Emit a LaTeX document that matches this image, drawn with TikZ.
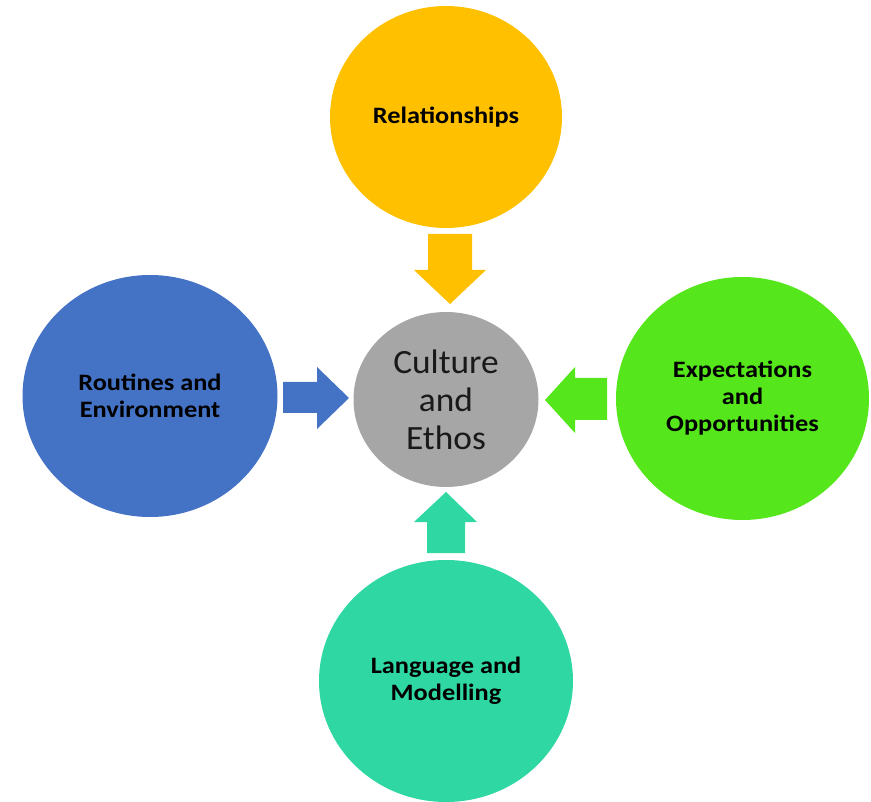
\documentclass[tikz,border=0pt]{standalone}
\usepackage{fontspec}
\setmainfont{Carlito}
\newfontfamily\lblfont[FakeStretch=1.12]{Carlito}
\newfontfamily\corefont[FakeStretch=1.04]{Carlito}
\usetikzlibrary{shapes.geometric}
\definecolor{cyellow}{HTML}{FFC000}
\definecolor{cblue}{HTML}{4472C4}
\definecolor{cgreen}{HTML}{55E61C}
\definecolor{cteal}{HTML}{2FD7A2}
\definecolor{cgray}{HTML}{A6A6A6}
\tikzset{
  blob/.style={ellipse, inner sep=0pt, align=center, text=black,
    font=\lblfont\fontsize{23.5}{27}\selectfont\bfseries},
  core/.style={ellipse, inner sep=0pt, align=center, text=black!90,
    font=\corefont\fontsize{34}{38}\selectfont},
}
\begin{document}
\begin{tikzpicture}[x=1pt,y=-1pt]
\useasboundingbox (0,0) rectangle (871,802);
\node[blob, fill=cyellow, minimum width=232pt, minimum height=222pt] (rel) at (446,117) {Relationships};
\node[blob, fill=cblue, minimum width=255pt, minimum height=242pt] (rout) at (150,396) {Routines and\\Environment};
\node[blob, fill=cgreen, minimum width=253pt, minimum height=243pt] (exp) at (742.5,398.5) {Expectations\\and\\Opportunities};
\node[blob, fill=cteal, minimum width=254pt, minimum height=242pt] (lang) at (446,681) {Language and\\Modelling};
\node[core, fill=cgray, minimum width=185pt, minimum height=175pt] (cult) at (446,399.5) {Culture\\and\\Ethos};
% block arrows
\fill[cyellow] (428,234) -- (472,234) -- (472,270) -- (486,270) -- (450,304) -- (414,270) -- (428,270) -- cycle;
\fill[cblue] (283,382) -- (317,382) -- (317,367) -- (349,398) -- (317,429) -- (317,413) -- (283,413) -- cycle;
\fill[cgreen] (607,378) -- (575,378) -- (575,367) -- (545,400) -- (575,433) -- (575,420) -- (607,420) -- cycle;
\fill[cteal] (427,553) -- (427,522) -- (414,522) -- (446,492) -- (477,522) -- (465,522) -- (465,553) -- cycle;
\end{tikzpicture}
\end{document}
